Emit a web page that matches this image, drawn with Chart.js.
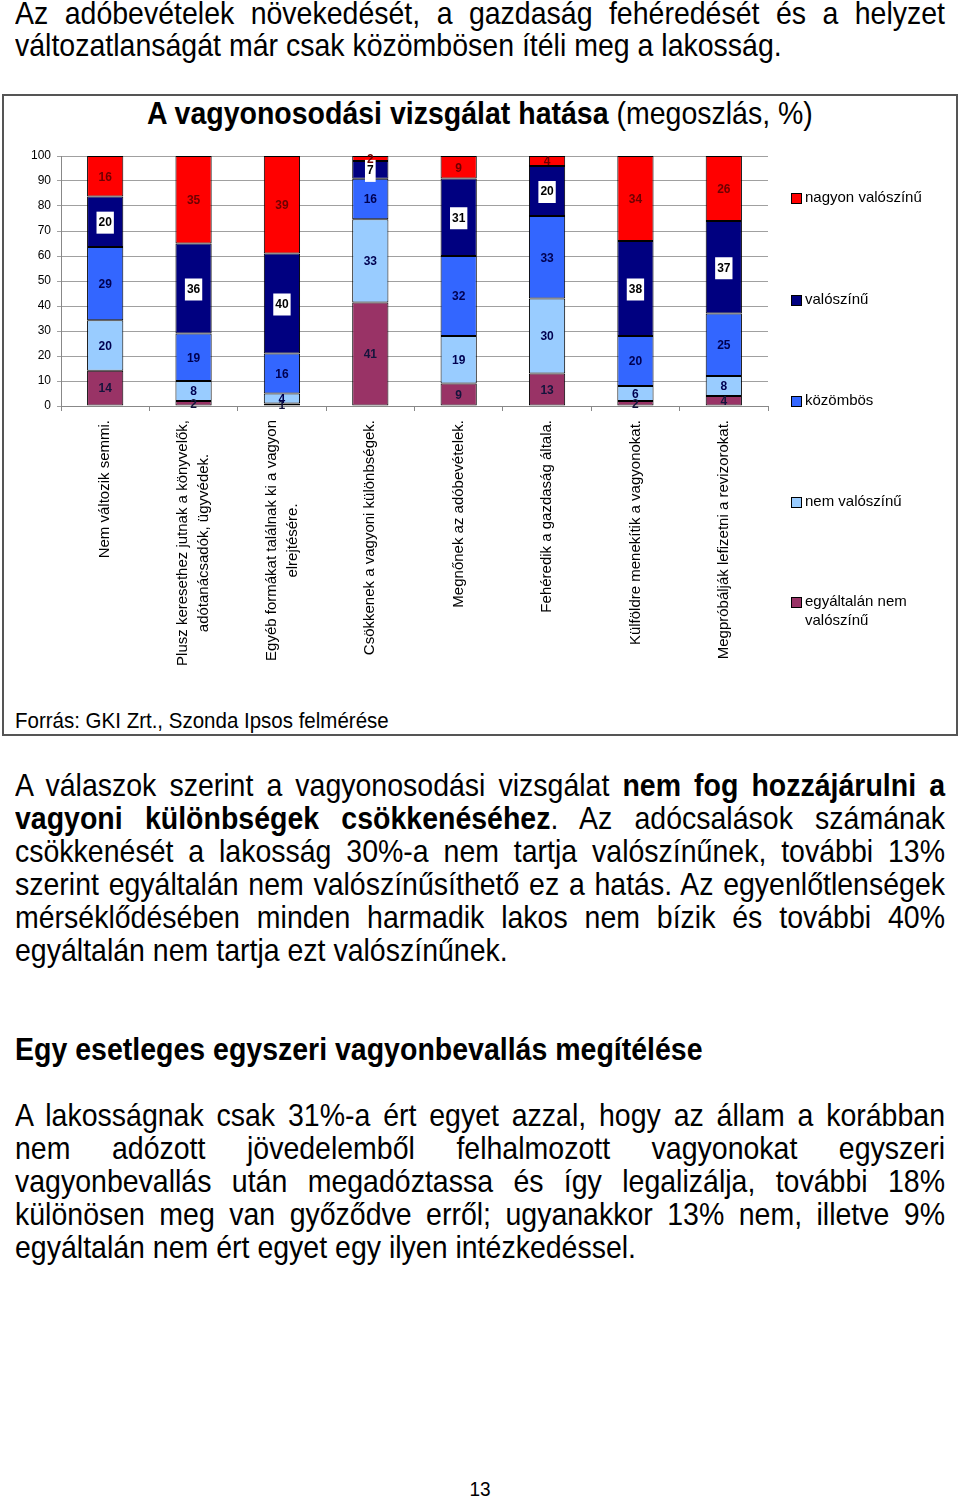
<!DOCTYPE html>
<html lang="hu">
<head>
<meta charset="utf-8">
<title>A vagyonosodási vizsgálat hatása</title>
<script src="https://cdn.jsdelivr.net/npm/chart.js@4.4.1/dist/chart.umd.min.js"></script>
<style>
  body { margin: 0; background: #fff; color: #000; font-family: "Liberation Sans", Arial, sans-serif; }
  #page { position: relative; width: 960px; height: 1499px; overflow: hidden; }
  .ln { position: absolute; left: 15px; width: 930px; height: 33px; line-height: 33px; font-size: 28.5px;
        text-align: justify; text-align-last: justify; transform: scaleY(1.1); }
  .ln.last { text-align-last: left; }
  #box { position: absolute; left: 2px; top: 94px; width: 956px; height: 642px; box-sizing: border-box;
         border: 2px solid #555; }
  #title { position: absolute; left: 0; top: 96px; width: 960px; text-align: center; font-size: 28.5px;
           line-height: 34px; transform: scaleY(1.1); }
  #source { position: absolute; left: 15px; top: 707px; font-size: 20.5px; line-height: 26px; transform: scaleY(1.1); }
  #chart { position: absolute; left: 0; top: 140px; }
  #pagenum { position: absolute; left: 0; top: 1476px; width: 960px; text-align: center; font-size: 19px;
             line-height: 26px; transform: scaleY(1.1); }
</style>
</head>
<body>
<div id="page">
  <div class="ln" style="top:-3.5px">Az adóbevételek növekedését, a gazdaság fehéredését és a helyzet</div>
  <div class="ln last" style="top:28.5px">változatlanságát már csak közömbösen ítéli meg a lakosság.</div>

  <div id="box"></div>
  <div id="title"><b>A vagyonosodási vizsgálat hatása</b> (megoszlás, %)</div>
  <canvas id="chart" width="960" height="560"></canvas>
  <div id="source">Forrás: GKI Zrt., Szonda Ipsos felmérése</div>

  <div class="ln" style="top:768.5px">A válaszok szerint a vagyonosodási vizsgálat <b>nem fog hozzájárulni a</b></div>
  <div class="ln" style="top:801.5px"><b>vagyoni különbségek csökkenéséhez</b>. Az adócsalások számának</div>
  <div class="ln" style="top:834.5px">csökkenését a lakosság 30%-a nem tartja valószínűnek, további 13%</div>
  <div class="ln" style="top:867.5px">szerint egyáltalán nem valószínűsíthető ez a hatás. Az egyenlőtlenségek</div>
  <div class="ln" style="top:900.5px">mérséklődésében minden harmadik lakos nem bízik és további 40%</div>
  <div class="ln last" style="top:933.5px">egyáltalán nem tartja ezt valószínűnek.</div>

  <div class="ln last" style="top:1032.5px"><b>Egy esetleges egyszeri vagyonbevallás megítélése</b></div>

  <div class="ln" style="top:1098.5px">A lakosságnak csak 31%-a ért egyet azzal, hogy az állam a korábban</div>
  <div class="ln" style="top:1131.5px">nem adózott jövedelemből felhalmozott vagyonokat egyszeri</div>
  <div class="ln" style="top:1164.5px">vagyonbevallás után megadóztassa és így legalizálja, további 18%</div>
  <div class="ln" style="top:1197.5px">különösen meg van győződve erről; ugyanakkor 13% nem, illetve 9%</div>
  <div class="ln last" style="top:1230.5px">egyáltalán nem ért egyet egy ilyen intézkedéssel.</div>

  <div id="pagenum">13</div>
</div>

<script>
// kategóriák (x tengely)
const categories = [
  'Nem változik semmi.',
  ['Plusz keresethez jutnak a könyvelők,', 'adótanácsadók, ügyvédek.'],
  ['Egyéb formákat találnak ki a vagyon', 'elrejtésére.'],
  'Csökkenek a vagyoni különbségek.',
  'Megnőnek az adóbevételek.',
  'Fehéredik a gazdaság általa.',
  'Külföldre menekítik a vagyonokat.',
  'Megpróbálják lefizetni a revizorokat.'
];

// sorozatok, alulról felfelé
const seriesNames = ['egyáltalán nem valószínű', 'nem valószínű', 'közömbös', 'valószínű', 'nagyon valószínű'];
const egyaltalanNem   = [14, 2, 1, 41, 9, 13, 2, 4];
const nemValoszinu    = [20, 8, 4, 33, 19, 30, 6, 8];
const kozombos        = [29, 19, 16, 16, 32, 33, 20, 25];
const valoszinu       = [20, 36, 40, 7, 31, 20, 38, 37];
const nagyonValoszinu = [16, 35, 39, 2, 9, 4, 34, 26];
const yTicks = [0, 10, 20, 30, 40, 50, 60, 70, 80, 90, 100];

const seriesValues = [egyaltalanNem, nemValoszinu, kozombos, valoszinu, nagyonValoszinu];
const fillColors  = ['#993366', '#99ccff', '#3366ff', '#000080', '#ff0000'];
const labelColors = ['#14143c', '#000050', '#000050', '#000000', '#6e0000'];
const FONT = '"Liberation Sans", Arial, sans-serif';

// 100%-os halmozás: minden oszlop összege 100-ra skálázva
const totals = categories.map((c, i) => seriesValues.reduce((s, arr) => s + arr[i], 0));

const datasets = seriesValues.map((vals, d) => ({
  label: seriesNames[d],
  data: vals.map((v, i) => v * 100 / totals[i]),
  raw: vals,
  backgroundColor: fillColors[d],
  borderColor: '#000',
  borderWidth: 1,
  borderSkipped: false,
  barPercentage: 0.41,
  categoryPercentage: 1,
  labelColor: labelColors[d],
  labelBox: d === 3
}));

// értékcímkék a szeletekben
const segmentLabels = {
  id: 'segmentLabels',
  afterDatasetsDraw(chart) {
    const ctx = chart.ctx;
    ctx.save();
    ctx.font = 'bold 12px ' + FONT;
    ctx.textAlign = 'center';
    ctx.textBaseline = 'middle';
    chart.data.datasets.forEach((ds, d) => {
      chart.getDatasetMeta(d).data.forEach((bar, i) => {
        const txt = String(ds.raw[i]);
        const y = (bar.y + bar.base) / 2 + 1;
        if (ds.labelBox) {
          const w = ctx.measureText(txt).width + 4;
          ctx.fillStyle = '#fff';
          ctx.fillRect(bar.x - w / 2, y - 11, w, 22);
        }
        ctx.fillStyle = ds.labelColor;
        ctx.fillText(txt, bar.x, y);
      });
    });
    ctx.restore();
  }
};

// függőleges kategóriafeliratok + jelmagyarázat
const sideTexts = {
  id: 'sideTexts',
  afterDraw(chart) {
    const ctx = chart.ctx;
    const xs = chart.scales.x;
    ctx.save();
    ctx.fillStyle = '#000';
    ctx.font = '15px ' + FONT;
    ctx.textAlign = 'center';
    ctx.textBaseline = 'middle';
    const labelTop = 280;
    categories.forEach((lab, i) => {
      const lines = Array.isArray(lab) ? lab : [lab];
      const px = xs.getPixelForTick(i);
      const maxW = Math.max(...lines.map(l => ctx.measureText(l).width));
      ctx.save();
      ctx.translate(px, labelTop + maxW / 2);
      ctx.rotate(-Math.PI / 2);
      lines.forEach((l, j) => ctx.fillText(l, 0, (j - (lines.length - 1) / 2) * 21));
      ctx.restore();
    });

    // jelmagyarázat, fentről lefelé fordított sorrendben
    const legendY = [58, 160, 261, 362, 462];
    ctx.textAlign = 'left';
    for (let k = 0; k < seriesNames.length; k++) {
      const d = seriesNames.length - 1 - k;
      const y = legendY[k];
      ctx.fillStyle = fillColors[d];
      ctx.fillRect(791, y - 5, 10, 10);
      ctx.strokeStyle = '#000';
      ctx.lineWidth = 1;
      ctx.strokeRect(791.5, y - 4.5, 10, 10);
      ctx.fillStyle = '#000';
      const words = seriesNames[d] === 'egyáltalán nem valószínű' ? ['egyáltalán nem', 'valószínű'] : [seriesNames[d]];
      words.forEach((w, j) => ctx.fillText(w, 805, y + j * 19));
    }
    ctx.restore();
  }
};

new Chart(document.getElementById('chart').getContext('2d'), {
  type: 'bar',
  data: { labels: categories, datasets: datasets },
  options: {
    responsive: false,
    animation: false,
    layout: { padding: { top: 16, right: 192, left: 0, bottom: 0 } },
    plugins: { legend: { display: false }, tooltip: { enabled: false }, title: { display: false } },
    scales: {
      x: {
        stacked: true,
        ticks: { display: false },
        grid: { drawOnChartArea: false, drawTicks: true, tickLength: 5, color: '#888' },
        border: { display: true, color: '#888' },
        afterFit: (scale) => { scale.height = 294; }
      },
      y: {
        stacked: true,
        min: yTicks[0],
        max: yTicks[yTicks.length - 1],
        afterBuildTicks: (scale) => { scale.ticks = yTicks.map(v => ({ value: v })); },
        ticks: { color: '#000', font: { family: FONT, size: 12 }, padding: 6 },
        grid: { color: '#a0a0a0', tickLength: 4 },
        border: { display: true, color: '#888' },
        afterFit: (scale) => { scale.width = 61; }
      }
    }
  },
  plugins: [segmentLabels, sideTexts]
});
</script>
</body>
</html>
